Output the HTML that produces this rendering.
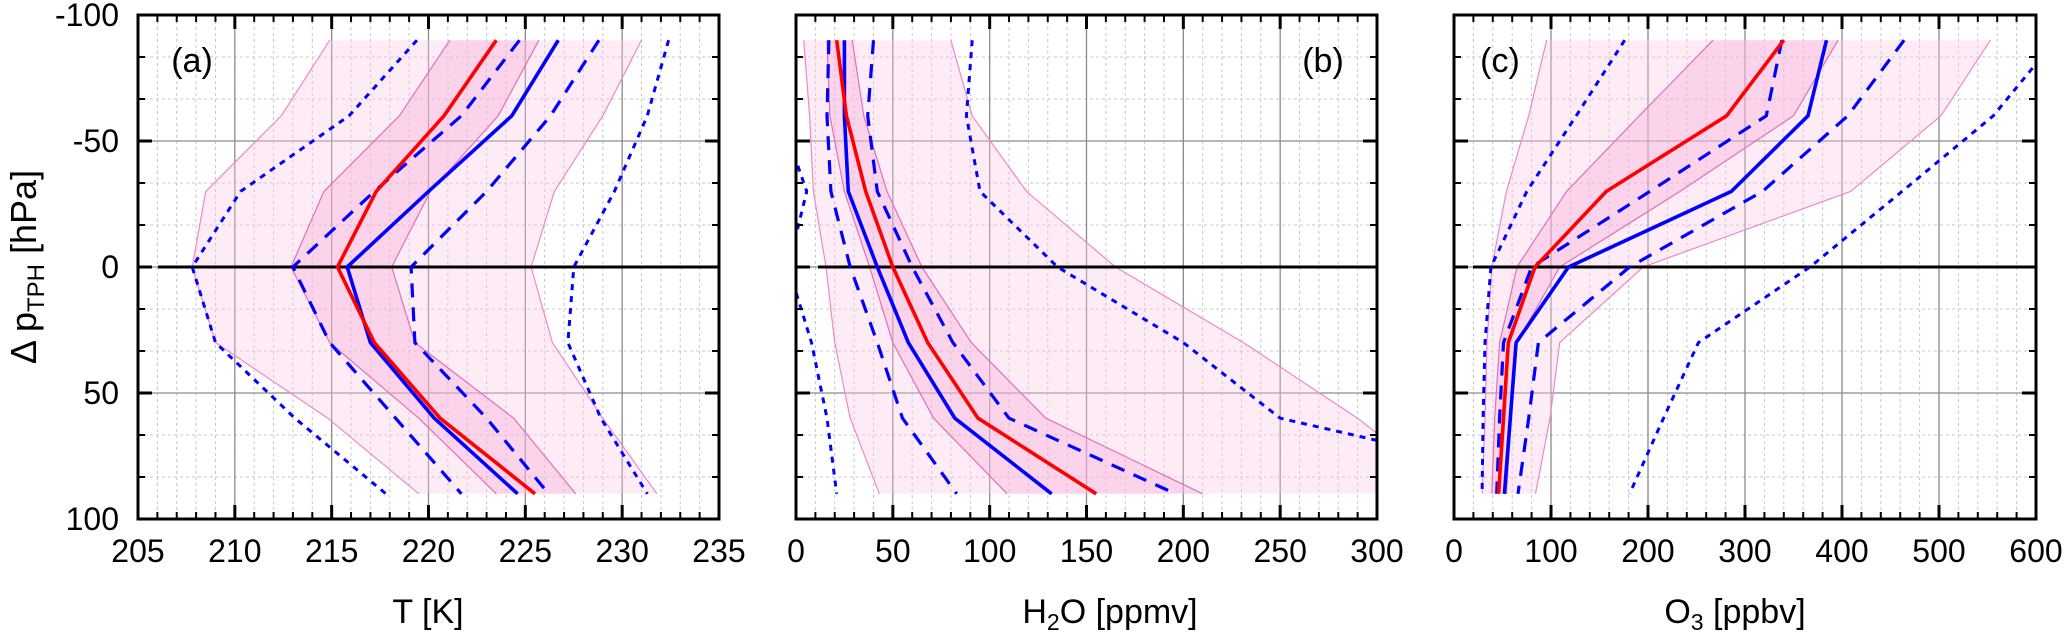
<!DOCTYPE html>
<html><head><meta charset="utf-8"><style>
html,body{margin:0;padding:0;background:#fff;width:2067px;height:640px;overflow:hidden;position:relative}
svg{display:block;font-family:"Liberation Sans",Arial,sans-serif}
</style></head><body>
<svg id="fig" width="2067" height="640" viewBox="0 0 2067 640" xmlns="http://www.w3.org/2000/svg"></svg>
<script>
// Pressure levels (hPa relative to tropopause)
const levels = [-90, -60, -30, 0, 30, 60, 90];
// Panel (a) Temperature [K]
const tRed = [223.5, 220.8, 217.3, 215.3, 217.2, 220.6, 225.5];
const tBlue = [226.7, 224.3, 220.0, 215.8, 217.0, 220.3, 224.6];
const tBlueDashL = [224.7, 221.7, 217.2, 213.0, 214.9, 218.3, 221.7];
const tBlueDashR = [228.8, 226.3, 223.0, 219.1, 219.3, 223.0, 226.2];
const tBlueDotL = [219.4, 215.9, 210.3, 207.8, 209.0, 213.1, 217.8];
const tBlueDotR = [232.4, 231.3, 229.6, 227.5, 227.2, 228.9, 231.3];
const tPinkOutL = [214.9, 212.4, 208.5, 207.8, 209.0, 214.8, 219.5];
const tPinkInL = [221.1, 218.5, 214.6, 212.9, 214.9, 219.5, 223.5];
const tPinkInR = [225.7, 223.6, 220.1, 218.1, 219.3, 224.4, 227.6];
const tPinkOutR = [231.0, 229.0, 226.5, 225.3, 226.4, 229.0, 231.8];
const tTicks = [205, 210, 215, 220, 225, 230, 235];
// Panel (b) H2O [ppmv]
const hRed = [21, 26, 36, 50, 68, 94, 155];
const hBlue = [25, 25, 27, 42, 58, 82, 132];
const hBlueDashL = [17, 16, 18, 28, 42, 55, 83];
const hBlueDashR = [40, 37, 42, 60, 81, 110, 196];
const hBlueDotL = [-20, -8, 5.5, -4, 8, 16, 21];
const hBlueDotR = [91, 88, 95, 135, 200, 250, 420];
const hPinkOutL = [4, 7, 9, 15.5, 20, 28, 43];
const hPinkInL = [16, 17.5, 25, 38, 50, 71, 109];
const hPinkInR = [29, 35, 47, 65, 90.5, 129, 210];
const hPinkOutR = [80, 91, 119, 165, 231, 290, 340];
const hTicks = [0, 50, 100, 150, 200, 250, 300];
// Panel (c) O3 [ppbv]
const oRed = [340, 281, 157, 83.5, 56, 51, 46];
const oBlue = [384, 365, 286, 118, 64, 58, 52];
const oBlueDashL = [338, 322, 202, 80, 51, 47, 44];
const oBlueDashR = [464, 406, 318, 181, 87, 77, 66];
const oBlueDotL = [176, 126, 75, 38, 32, 30, 29];
const oBlueDotR = [620, 556, 462, 367, 252, 216, 181];
const oPinkOutL = [95.5, 77, 54, 39, 34, 32, 29];
const oPinkInL = [267, 191, 116, 65, 47, 42, 39];
const oPinkInR = [396, 350, 233, 109, 65, 59, 54];
const oPinkOutR = [553, 502, 409, 195, 109, 99, 84];
const oTicks = [0, 100, 200, 300, 400, 500, 600];
const yTicks = [-100, -50, 0, 50, 100];

const NS = "http://www.w3.org/2000/svg";
const svg = document.getElementById("fig");
function mk(tag, attrs, parent){
  const e = document.createElementNS(NS, tag);
  for (const k in attrs) e.setAttribute(k, attrs[k]);
  (parent || svg).appendChild(e);
  return e;
}
const TOP = 15, BOT = 519;
function yS(p){ return TOP + (p + 100) / 200 * (BOT - TOP); }

const panels = [
  {key:"a", x0:138, x1:719, min:205, max:235, minor:1, ticks:tTicks, label:"(a)", lx:192, zeroFrom:158,
   s:{red:tRed, blue:tBlue, dl:tBlueDashL, dr:tBlueDashR, ol:tBlueDotL, or:tBlueDotR, pol:tPinkOutL, pil:tPinkInL, pir:tPinkInR, por:tPinkOutR}},
  {key:"b", x0:796, x1:1377, min:0, max:300, minor:10, ticks:hTicks, label:"(b)", lx:1323, zeroFrom:818,
   s:{red:hRed, blue:hBlue, dl:hBlueDashL, dr:hBlueDashR, ol:hBlueDotL, or:hBlueDotR, pol:hPinkOutL, pil:hPinkInL, pir:hPinkInR, por:hPinkOutR}},
  {key:"c", x0:1454, x1:2036, min:0, max:600, minor:20, ticks:oTicks, label:"(c)", lx:1500, zeroFrom:1473,
   s:{red:oRed, blue:oBlue, dl:oBlueDashL, dr:oBlueDashR, ol:oBlueDotL, or:oBlueDotR, pol:oPinkOutL, pil:oPinkInL, pir:oPinkInR, por:oPinkOutR}}
];

const defs = mk("defs", {});
panels.forEach(P => {
  const xS = v => P.x0 + (v - P.min) / (P.max - P.min) * (P.x1 - P.x0);
  const cp = mk("clipPath", {id:"clip-" + P.key}, defs);
  mk("rect", {x:P.x0, y:TOP, width:P.x1 - P.x0, height:BOT - TOP}, cp);
  const g = mk("g", {"clip-path":"url(#clip-" + P.key + ")"});
  
  
  for (let v = P.min; v <= P.max + 1e-9; v += P.minor) {
    const x = xS(v);
    const l = mk("line", {x1:x, x2:x, y1:TOP, y2:BOT, stroke:"#c8c8c8", "stroke-width":1, "stroke-dasharray":"3,3"}, g);
    
    
  }
  for (let i = 0; i <= 12; i++) {
    const y = yS(-100 + i * 50 / 3);
    const l = mk("line", {x1:P.x0, x2:P.x1, y1:y, y2:y, stroke:"#c8c8c8", "stroke-width":1, "stroke-dasharray":"3,3"}, g);
    
    
  }
  P.ticks.forEach(v => {
    const x = xS(v);
    const l = mk("line", {x1:x, x2:x, y1:TOP, y2:BOT, stroke:"#8a8a8a", "stroke-width":1.3}, g);
    
    
  });
  yTicks.forEach(p => {
    const y = yS(p);
    const l = mk("line", {x1:P.x0, x2:P.x1, y1:y, y2:y, stroke:"#8a8a8a", "stroke-width":1.3}, g);
    
    
  });
  const pts = arr => arr.map((v, i) => xS(v).toFixed(1) + "," + yS(levels[i]).toFixed(1));
  const band = (L, R, fill, name) => {
    const d = pts(L).concat(pts(R).reverse()).join(" ");
    const pg = mk("polygon", {points:d, fill:fill, stroke:"none"}, g);
    
    
  };
  band(P.s.pol, P.s.por, "rgba(250,200,230,0.35)", "outer-range-band");
  band(P.s.pil, P.s.pir, "rgba(245,170,215,0.35)", "inner-range-band");
  const line = (arr, color, w, dash, name) => {
    const pl = mk("polyline", {points:pts(arr).join(" "), fill:"none", stroke:color, "stroke-width":w, "stroke-linejoin":"round"}, g);
    if (dash) pl.setAttribute("stroke-dasharray", dash);
    
    
  };
  line(P.s.pol, "#ee88c8", 1.2, null, "pink-outer-left");
  line(P.s.por, "#ee88c8", 1.2, null, "pink-outer-right");
  line(P.s.pil, "#e070b8", 1.2, null, "pink-inner-left");
  line(P.s.pir, "#e070b8", 1.2, null, "pink-inner-right");
  const z = mk("line", {x1:P.zeroFrom, x2:P.x1, y1:yS(0), y2:yS(0), stroke:"#000", "stroke-width":3}, g);
  
  
  line(P.s.ol, "#0000ff", 3, "6,6", "blue-dotted-left");
  line(P.s.or, "#0000ff", 3, "6,6", "blue-dotted-right");
  line(P.s.dl, "#0000ff", 3.2, "14,10", "blue-dashed-left");
  line(P.s.dr, "#0000ff", 3.2, "14,10", "blue-dashed-right");
  line(P.s.blue, "#0000ff", 3.6, null, "blue-median");
  line(P.s.red, "#ff0000", 3.6, null, "red-median");
  for (let v = P.min; v <= P.max + 1e-9; v += P.minor) {
    const x = xS(v);
    const major = P.ticks.some(t => Math.abs(t - v) < 1e-6);
    const len = major ? 14 : 7;
    const t1 = mk("line", {x1:x, x2:x, y1:BOT, y2:BOT - len, stroke:"#000", "stroke-width":major ? 3 : 2});
    
    
    const t2 = mk("line", {x1:x, x2:x, y1:TOP, y2:TOP + len, stroke:"#000", "stroke-width":major ? 3 : 2});
    
    
  }
  for (let i = 0; i <= 12; i++) {
    const p = -100 + i * 50 / 3;
    const y = yS(p);
    const major = i % 3 === 0;
    const len = major ? 14 : 7;
    const t1 = mk("line", {x1:P.x0, x2:P.x0 + len, y1:y, y2:y, stroke:"#000", "stroke-width":major ? 3 : 2});
    
    
    const t2 = mk("line", {x1:P.x1, x2:P.x1 - len, y1:y, y2:y, stroke:"#000", "stroke-width":major ? 3 : 2});
    
    
  }
  const fr = mk("rect", {x:P.x0, y:TOP, width:P.x1 - P.x0, height:BOT - TOP, fill:"none", stroke:"#000", "stroke-width":3});
  
  
  P.ticks.forEach(v => {
    const t = mk("text", {x:xS(v), y:562, "font-size":32, "text-anchor":"middle", fill:"#000"});
    t.textContent = v;
    
    
  });
  const lb = mk("text", {x:P.lx, y:72, "font-size":34, "text-anchor":"middle", fill:"#000"});
  lb.textContent = P.label;
  
  
});
yTicks.forEach(p => {
  const t = mk("text", {x:119, y:yS(p) + 11, "font-size":32, "text-anchor":"end", fill:"#000"});
  t.textContent = p;
  
  
});
</script>
<svg style="position:absolute;left:0;top:0" width="2067" height="640">
  <text x="428" y="623" font-size="34" text-anchor="middle" font-family="Liberation Sans, sans-serif">T [K]</text>
  <text x="1110" y="623" font-size="34" text-anchor="middle" font-family="Liberation Sans, sans-serif">H<tspan font-size="23" dy="7">2</tspan><tspan dy="-7">O  [ppmv]</tspan></text>
  <text x="1735" y="623" font-size="34" text-anchor="middle" font-family="Liberation Sans, sans-serif">O<tspan font-size="23" dy="7">3</tspan><tspan dy="-7"> [ppbv]</tspan></text>
  <text transform="translate(36,267) rotate(-90)" font-size="36" text-anchor="middle" font-family="Liberation Sans, sans-serif">Δ p<tspan font-size="24" dy="8">TPH</tspan><tspan dy="-8"> [hPa]</tspan></text>
</svg>
</body></html>
